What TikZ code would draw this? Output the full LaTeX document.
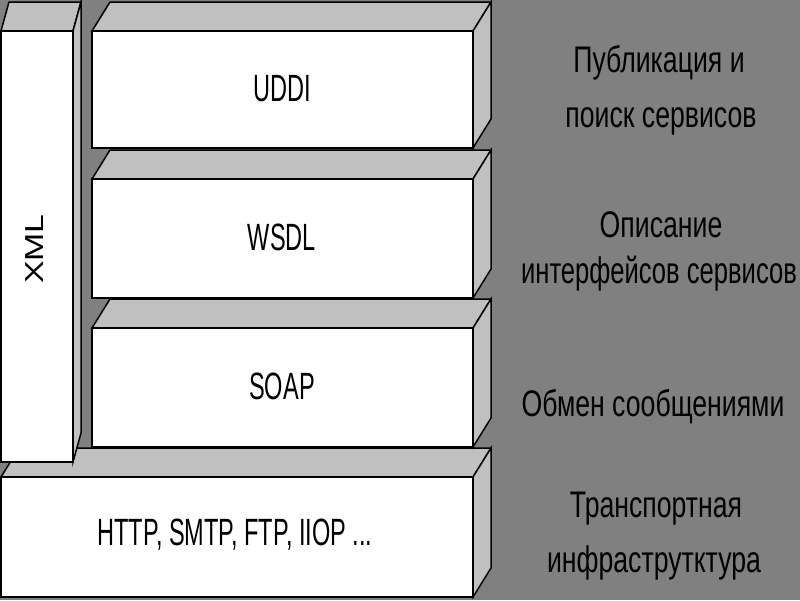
\documentclass[tikz,border=0pt]{standalone}
\usepackage{fontspec}
\setmainfont{Liberation Sans}
\newfontfamily\rfont[FakeStretch=0.72]{Liberation Sans}
\newfontfamily\bfontx[FakeStretch=0.62]{Liberation Sans}
\newfontfamily\xfont[FakeStretch=1.3]{Liberation Sans}
\definecolor{bggray}{RGB}{128,128,128}
\definecolor{facegray}{RGB}{192,192,192}
\newcommand\slab[6]{%
  \filldraw[sideface] (#1,#2) -- (#1+#5,#2-#6) -- (#3+#5,#2-#6) -- (#3,#2) -- cycle;
  \filldraw[sideface] (#3,#2) -- (#3+#5,#2-#6) -- (#3+#5,#4-#6) -- (#3,#4) -- cycle;
  \filldraw[frontface] (#1,#2) rectangle (#3,#4);
}
\tikzset{
  sideface/.style={fill=facegray, draw=black, line width=1.5pt, line join=miter},
  frontface/.style={fill=white, draw=black, line width=1.5pt},
  boxlabel/.style={anchor=base, inner sep=0pt, font=\bfontx\fontsize{38}{44}\selectfont},
  sidelabel/.style={anchor=base, inner sep=0pt, font=\rfont\fontsize{37}{44}\selectfont},
  xmllabel/.style={anchor=base, inner sep=0pt, rotate=90, font=\xfont\fontsize{26}{30}\selectfont}
}
\begin{document}
\begin{tikzpicture}[x=1pt, y=-1pt]
\useasboundingbox (0,0) rectangle (800,600);
\clip (0,0) rectangle (800,600);
\fill[bggray] (0,0) rectangle (800,600);
% transport layer
\slab{1}{477}{473}{597}{18}{29}
% XML column
\slab{1}{31}{73}{462}{8}{29}
% stack
\slab{92}{31}{473}{148}{18}{29}
\slab{92}{179}{473}{298}{18}{29}
\slab{92}{328}{473}{447}{18}{29}
% box labels
\node[boxlabel] (uddi) at (282,101) {UDDI};
\node[boxlabel] (wsdl) at (282,250) {WSDL};
\node[boxlabel] (soap) at (282,399) {SOAP};
\node[boxlabel] (http) at (235,545) {HTTP, SMTP, FTP, IIOP ...};
\node[xmllabel] (xml) at (43,249) {XML};
% side labels
\node[sidelabel] (pub1) at (659,72) {Публикация и};
\node[sidelabel] (pub2) at (661,127) {поиск сервисов};
\node[sidelabel] (desc1) at (661,237) {Описание};
\node[sidelabel] (desc2) at (659,283) {\scalebox{0.96}[1]{интерфейсов сервисов}};
\node[sidelabel] (msg) at (653,416) {Обмен сообщениями};
\node[sidelabel] (tr1) at (656,517) {Транспортная};
\node[sidelabel] (tr2) at (654,572) {инфраструтктура};
\end{tikzpicture}
\end{document}
